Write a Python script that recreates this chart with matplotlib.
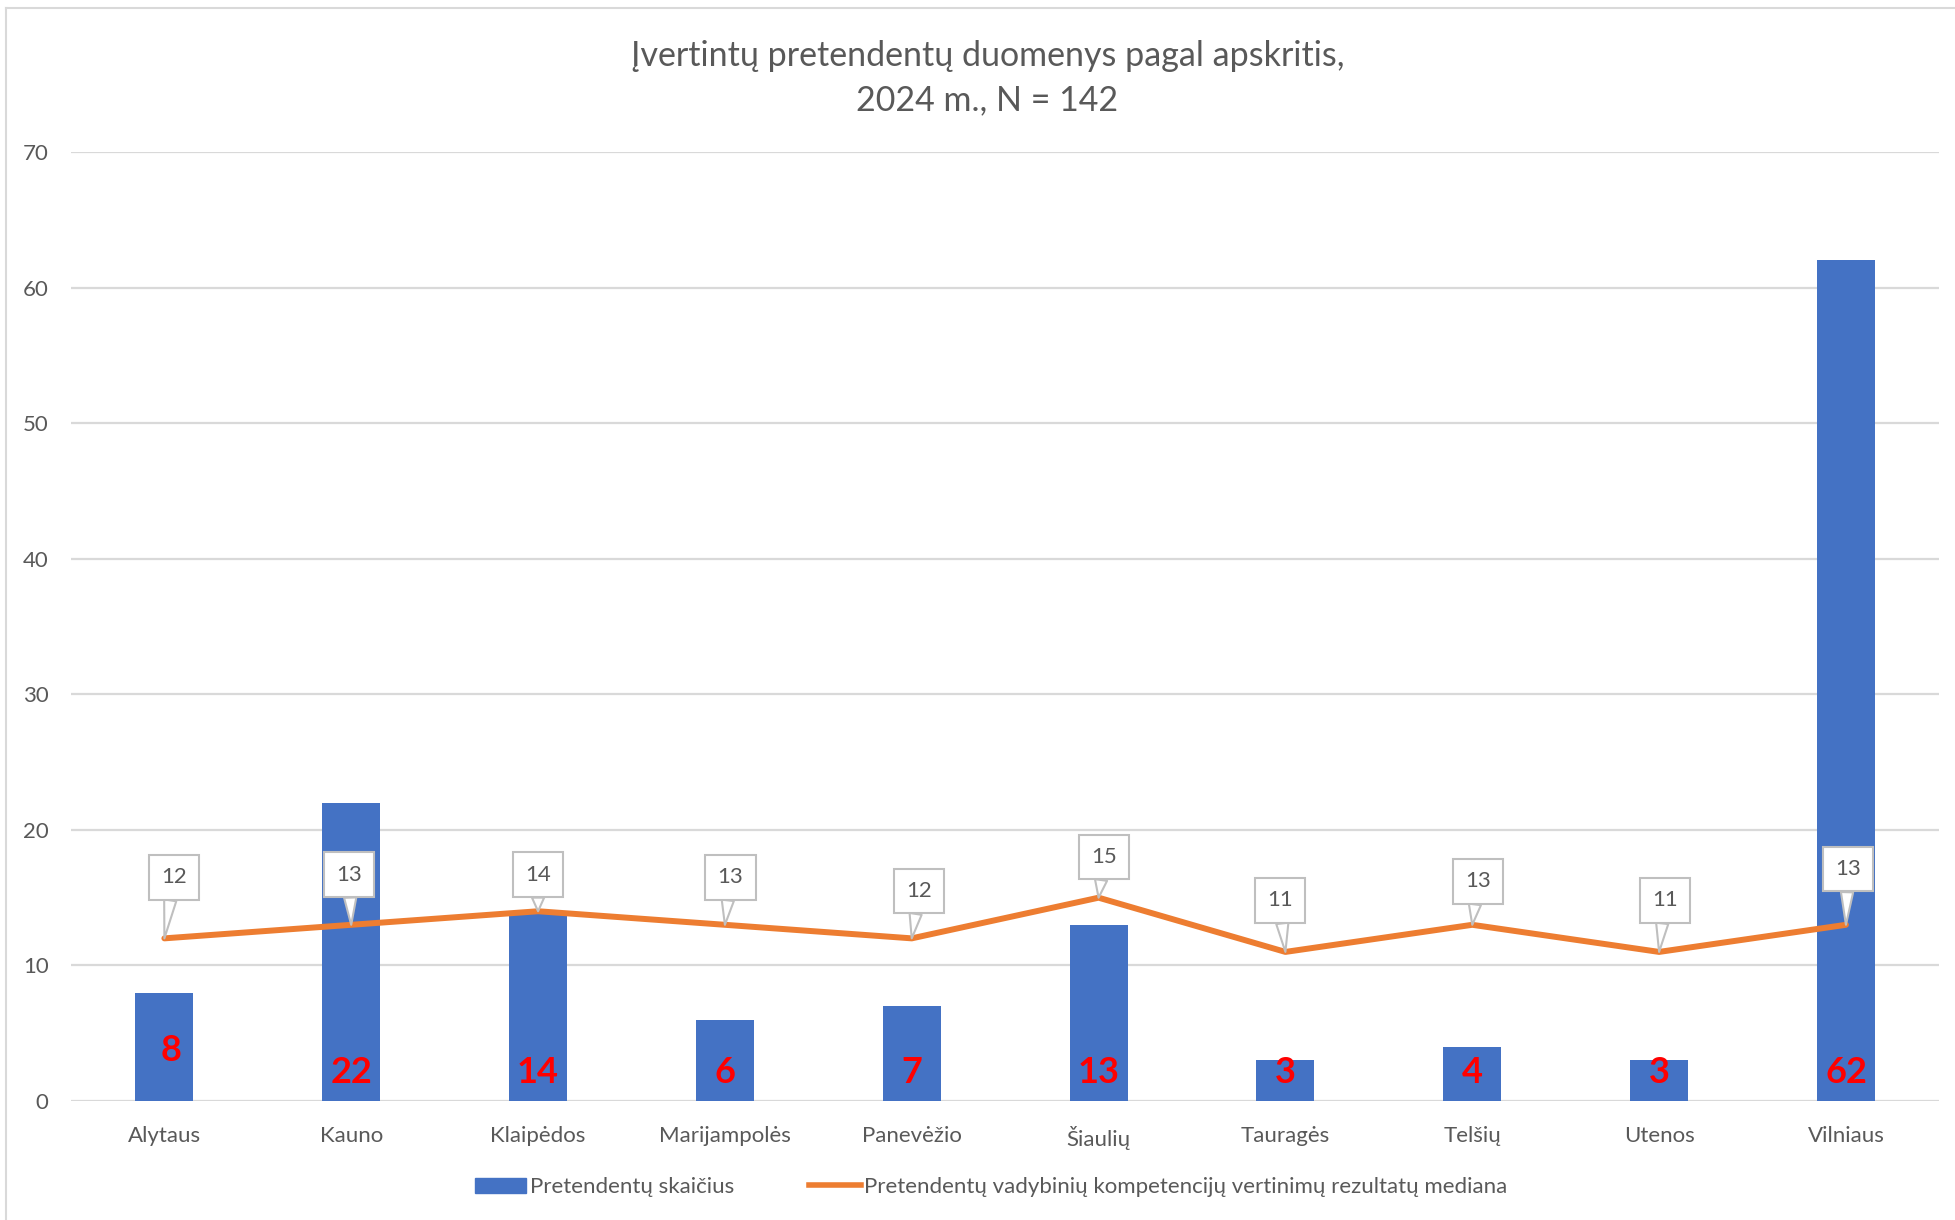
import matplotlib.pyplot as plt
from matplotlib.patches import Patch
from matplotlib.lines import Line2D

plt.rcParams['font.family'] = ['Lato', 'DejaVu Sans']

regions = ["Alytaus", "Kauno", "Klaipėdos", "Marijampolės", "Panevėžio",
           "Šiaulių", "Tauragės", "Telšių", "Utenos", "Vilniaus"]
candidates = [8, 22, 14, 6, 7, 13, 3, 4, 3, 62]
median_score = [12, 13, 14, 13, 12, 15, 11, 13, 11, 13]

# callout box offsets (category units, value units) relative to the line point
callout_dx = [0.05, -0.01, 0.0, 0.03, 0.04, 0.03, -0.03, 0.03, 0.03, 0.01]
callout_dy = [4.5, 3.7, 2.7, 3.5, 3.5, 3.0, 3.8, 3.2, 3.8, 4.1]

BLUE = "#4472C4"
ORANGE = "#ED7D31"
GREY_TXT = "#595959"
GRID = "#D9D9D9"

fig = plt.figure(figsize=(19.55, 12.2), dpi=100)
ax = fig.add_axes([0.0363, 0.0975, 0.9557, 0.7779])

x = list(range(len(regions)))
ax.bar(x, candidates, width=0.31, color=BLUE, zorder=2)
ax.plot(x, median_score, color=ORANGE, lw=4.3, zorder=3, solid_capstyle='round')

# red count labels near bar base (the first one sits mid-bar, as in the source)
for i, v in enumerate(candidates):
    if i == 0:
        ax.text(i + 0.035, v / 2 - 0.3, str(v), color="#FF0000", fontsize=26,
                fontweight='bold', ha='center', va='center', zorder=4)
    else:
        ax.text(i, 2.1, str(v), color="#FF0000", fontsize=26, fontweight='bold',
                ha='center', va='center', zorder=4)

# callouts with median values
for i, v in enumerate(median_score):
    ax.annotate(str(v), xy=(i, v), xytext=(i + callout_dx[i], v + callout_dy[i]),
                ha='center', va='center', fontsize=16, color=GREY_TXT, zorder=5,
                bbox=dict(boxstyle='square,pad=0.55', fc='white', ec='#BFBFBF', lw=1.5),
                arrowprops=dict(arrowstyle='wedge,tail_width=0.55,shrink_factor=0.5',
                                fc='white', ec='#BFBFBF', lw=1.5, shrinkA=0, shrinkB=0))

ax.set_xlim(-0.5, 9.5)
ax.set_ylim(0, 70)
ax.set_yticks(range(0, 71, 10))
ax.set_xticks(x)
ax.set_xticklabels(regions)
ax.yaxis.grid(True, color=GRID, lw=1.6, zorder=0)
ax.set_axisbelow(True)
for s in ax.spines.values():
    s.set_visible(False)
ax.tick_params(axis='both', length=0, labelsize=16, colors=GREY_TXT)
ax.tick_params(axis='y', pad=16)
ax.tick_params(axis='x', pad=18)

fig.text(0.505, 0.936, "Įvertintų pretendentų duomenys pagal apskritis,\n2024 m., N = 142",
         ha='center', va='center', fontsize=24.5, color=GREY_TXT, linespacing=1.5)

handles = [Patch(color=BLUE, label="Pretendentų skaičius"),
           Line2D([0], [0], color=ORANGE, lw=4,
                  label="Pretendentų vadybinių kompetencijų vertinimų rezultatų mediana")]
leg = fig.legend(handles=handles, loc='center', bbox_to_anchor=(0.507, 0.027), ncol=2,
                 frameon=False, fontsize=16, handlelength=2.3, handletextpad=0.15,
                 columnspacing=3.4)
for t in leg.get_texts():
    t.set_color(GREY_TXT)

# chart frame
fig.add_artist(Line2D([0.003, 1.0], [0.9935, 0.9935], color=GRID, lw=1.5))
fig.add_artist(Line2D([0.003, 0.003], [0.0, 0.9935], color=GRID, lw=1.5))

fig.savefig("out.png", dpi=100)
